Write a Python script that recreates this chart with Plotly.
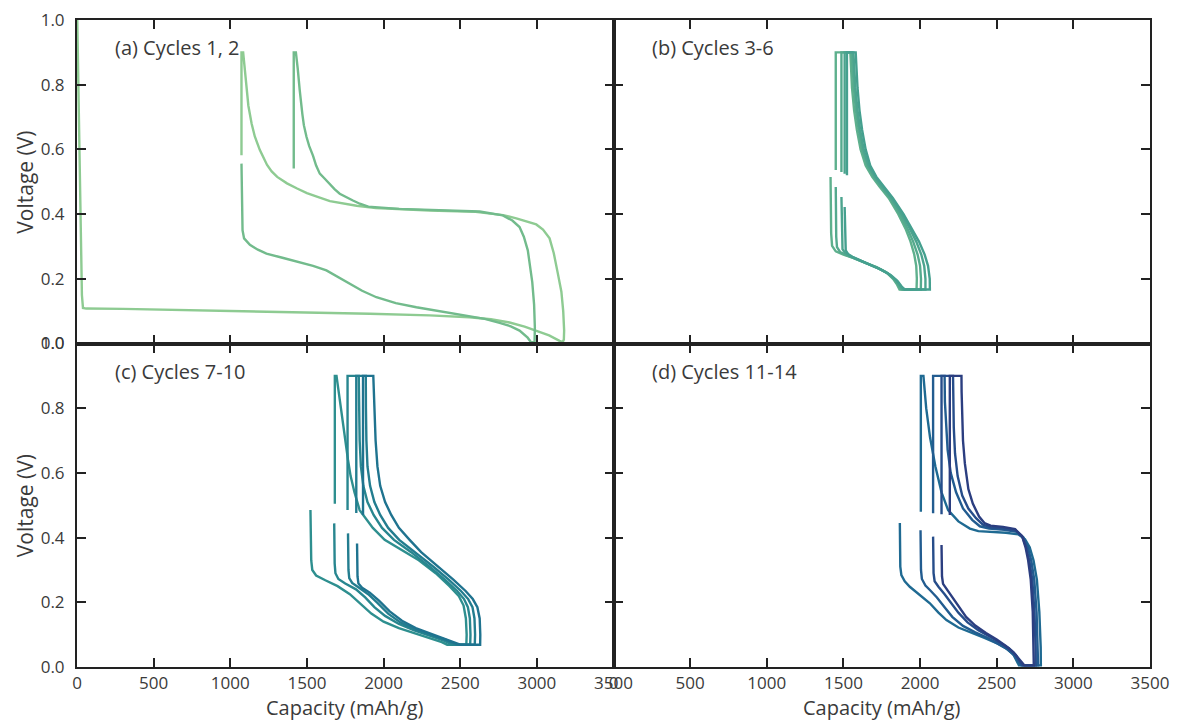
import plotly.graph_objects as go
from plotly.subplots import make_subplots

# ---------------- data (capacity mAh/g, voltage V) per cycle ----------------
cap_c1 = [0, 8, 20, 32, 39, 60, 300, 800, 1300, 1910, 2300, 2560, 2700, 2822, 2920, 2996, 3080, 3148, 3168, 3176,
          3178, 3172, 3160, 3137, 3110, 3083, 3040, 2996, 2930, 2866, 2780, 2600, 2300, 2082, 1950, 1824, 1720, 1650,
          1565, 1500, 1436, 1370, 1306, 1270, 1240, 1215, 1193, 1160, 1139, 1118, 1106, 1094, 1087, 1084, 1073, 1073]
volt_c1 = [1.05, 0.8, 0.4, 0.15, 0.11, 0.108, 0.107, 0.103, 0.099, 0.092, 0.087, 0.081, 0.075, 0.065, 0.052, 0.040,
           0.025, 0.008, 0.004, 0.012, 0.04, 0.10, 0.16, 0.216, 0.28, 0.325, 0.352, 0.368, 0.378, 0.387, 0.397, 0.407,
           0.411, 0.415, 0.419, 0.426, 0.433, 0.440, 0.454, 0.465, 0.479, 0.495, 0.515, 0.532, 0.552, 0.575, 0.598,
           0.64, 0.68, 0.735, 0.79, 0.85, 0.885, 0.9, 0.9, 0.582]

cap_c2 = [1073, 1074, 1076, 1080, 1090, 1128, 1180, 1236, 1340, 1453, 1540, 1627, 1700, 1779, 1860, 1953, 2080, 2214,
          2380, 2540, 2660, 2757, 2830, 2887, 2940, 2962, 2985,
          2987, 2982, 2970, 2955, 2941, 2915, 2887, 2840, 2778, 2627, 2400, 2100, 1900, 1845, 1800, 1758, 1714, 1680,
          1649, 1615, 1584, 1560, 1540, 1515, 1497, 1480, 1470, 1460, 1453, 1440, 1428, 1414, 1414]
volt_c2 = [0.556, 0.47, 0.40, 0.35, 0.325, 0.305, 0.29, 0.278, 0.265, 0.252, 0.24, 0.226, 0.207, 0.185, 0.163, 0.143,
           0.125, 0.112, 0.099, 0.087, 0.076, 0.064, 0.053, 0.040, 0.018, 0.004, 0.004,
           0.05, 0.12, 0.19, 0.245, 0.288, 0.33, 0.36, 0.38, 0.396, 0.408, 0.412, 0.416, 0.423, 0.432, 0.442, 0.453,
           0.463, 0.477, 0.494, 0.51, 0.525, 0.55, 0.58, 0.61, 0.639, 0.675, 0.71, 0.745, 0.783, 0.85, 0.9, 0.9, 0.541]

cap_c3 = [1416, 1418, 1420, 1426, 1450, 1500, 1563, 1640, 1716, 1780, 1824, 1850, 1866, 1977, 1979, 1975, 1962, 1938,
          1905, 1858, 1795, 1735, 1688, 1645, 1612, 1588, 1570, 1556, 1548, 1545, 1450, 1450]
volt_c3 = [0.515, 0.42, 0.34, 0.302, 0.285, 0.275, 0.265, 0.25, 0.236, 0.22, 0.2, 0.182, 0.167, 0.167, 0.20, 0.24,
           0.275, 0.315, 0.355, 0.40, 0.45, 0.485, 0.515, 0.55, 0.60, 0.66, 0.72, 0.79, 0.85, 0.90, 0.90, 0.536]

cap_c4 = [1450, 1451, 1453, 1458, 1478, 1520, 1575, 1650, 1725, 1788, 1833, 1860, 1878, 2005, 2006, 2000, 1984, 1955,
          1918, 1868, 1803, 1745, 1698, 1656, 1623, 1600, 1582, 1568, 1560, 1555, 1487, 1487]
volt_c4 = [0.484, 0.40, 0.33, 0.298, 0.283, 0.273, 0.263, 0.248, 0.233, 0.217, 0.198, 0.18, 0.167, 0.167, 0.20, 0.24,
           0.275, 0.315, 0.355, 0.40, 0.45, 0.485, 0.515, 0.55, 0.60, 0.66, 0.72, 0.79, 0.85, 0.90, 0.90, 0.53]

cap_c5 = [1487, 1488, 1490, 1494, 1510, 1545, 1595, 1665, 1738, 1798, 1842, 1870, 1890, 2035, 2035, 2027, 2008, 1975,
          1933, 1880, 1812, 1752, 1706, 1664, 1632, 1609, 1592, 1578, 1570, 1565, 1508, 1508]
volt_c5 = [0.453, 0.38, 0.32, 0.292, 0.28, 0.27, 0.26, 0.245, 0.23, 0.214, 0.196, 0.178, 0.167, 0.167, 0.20, 0.24,
           0.275, 0.315, 0.355, 0.40, 0.45, 0.485, 0.515, 0.55, 0.60, 0.66, 0.72, 0.79, 0.85, 0.90, 0.90, 0.525]

cap_c6 = [1508, 1509, 1511, 1515, 1530, 1562, 1608, 1675, 1748, 1808, 1852, 1880, 1900, 2064, 2063, 2052, 2030, 1993,
          1948, 1892, 1822, 1762, 1715, 1675, 1645, 1622, 1605, 1592, 1584, 1580, 1523, 1523]
volt_c6 = [0.422, 0.36, 0.31, 0.288, 0.277, 0.267, 0.257, 0.243, 0.228, 0.212, 0.194, 0.176, 0.167, 0.167, 0.20, 0.24,
           0.275, 0.315, 0.355, 0.40, 0.45, 0.485, 0.515, 0.55, 0.60, 0.66, 0.72, 0.79, 0.85, 0.90, 0.90, 0.52]

cap_c7 = [1523, 1525, 1528, 1535, 1560, 1620, 1700, 1780, 1850, 1920, 2000, 2100, 2200, 2300, 2380, 2415,
          2540, 2542, 2537, 2522, 2490, 2430, 2340, 2230, 2110, 2007, 1930, 1870, 1844, 1810, 1785, 1768, 1745, 1720,
          1700, 1693, 1682, 1682]
volt_c7 = [0.485, 0.40, 0.33, 0.30, 0.283, 0.268, 0.25, 0.225, 0.195, 0.165, 0.14, 0.12, 0.105, 0.09, 0.077, 0.069,
           0.069, 0.10, 0.15, 0.19, 0.22, 0.25, 0.29, 0.33, 0.365, 0.393, 0.43, 0.47, 0.485, 0.54, 0.59, 0.64, 0.72,
           0.8, 0.87, 0.9, 0.9, 0.505]

cap_c8 = [1678, 1679, 1681, 1686, 1705, 1750, 1820, 1880, 1940, 2010, 2100, 2200, 2300, 2390, 2450,
          2565, 2567, 2563, 2550, 2525, 2480, 2400, 2300, 2180, 2068, 1990, 1935, 1895, 1868, 1852, 1844, 1840, 1838,
          1765, 1765]
volt_c8 = [0.444, 0.38, 0.32, 0.29, 0.272, 0.258, 0.24, 0.215, 0.185, 0.158, 0.133, 0.113, 0.097, 0.082, 0.069,
           0.069, 0.10, 0.15, 0.185, 0.21, 0.235, 0.27, 0.31, 0.355, 0.393, 0.43, 0.47, 0.51, 0.56, 0.62, 0.7, 0.8,
           0.9, 0.9, 0.485]

cap_c9 = [1768, 1769, 1771, 1776, 1795, 1840, 1900, 1960, 2030, 2110, 2200, 2300, 2400, 2480,
          2595, 2597, 2593, 2580, 2552, 2505, 2425, 2325, 2205, 2102, 2030, 1978, 1940, 1912, 1895, 1888, 1885, 1884,
          1822, 1822]
volt_c9 = [0.413, 0.35, 0.30, 0.275, 0.26, 0.245, 0.225, 0.198, 0.165, 0.138, 0.117, 0.1, 0.085, 0.069,
           0.069, 0.10, 0.15, 0.185, 0.21, 0.235, 0.27, 0.31, 0.355, 0.393, 0.43, 0.47, 0.51, 0.56, 0.62, 0.7, 0.8,
           0.9, 0.9, 0.476]

cap_c10 = [1827, 1828, 1830, 1836, 1860, 1910, 1970, 2040, 2120, 2210, 2310, 2410, 2500,
           2630, 2631, 2627, 2612, 2582, 2535, 2455, 2355, 2245, 2170, 2100, 2050, 2010, 1978, 1960, 1948, 1940, 1933,
           1866, 1866]
volt_c10 = [0.382, 0.32, 0.28, 0.258, 0.245, 0.23, 0.205, 0.172, 0.143, 0.12, 0.102, 0.086, 0.069,
            0.069, 0.10, 0.15, 0.185, 0.21, 0.235, 0.27, 0.31, 0.355, 0.393, 0.43, 0.47, 0.51, 0.56, 0.62, 0.7, 0.8,
            0.9, 0.9, 0.47]

cap_c11 = [1868, 1869, 1871, 1878, 1900, 1933, 2000, 2064, 2120, 2172, 2250, 2344, 2420, 2499, 2560, 2607, 2630, 2645,
           2788, 2787, 2778, 2762, 2740, 2715, 2685, 2640, 2560, 2460, 2380, 2325, 2250, 2183, 2140, 2100, 2065, 2040,
           2022, 2005, 2005]
volt_c11 = [0.445, 0.38, 0.31, 0.284, 0.265, 0.248, 0.222, 0.197, 0.168, 0.145, 0.122, 0.105, 0.09, 0.074, 0.058, 0.04,
            0.02, 0.005, 0.005, 0.06, 0.17, 0.27, 0.33, 0.37, 0.395, 0.41, 0.415, 0.418, 0.42, 0.428, 0.45, 0.485,
            0.54, 0.62, 0.71, 0.8, 0.9, 0.9, 0.48]

cap_c12 = [2003, 2004, 2006, 2012, 2035, 2064, 2110, 2160, 2210, 2280, 2360, 2440, 2510, 2570, 2615, 2645, 2660,
           2770, 2768, 2760, 2745, 2725, 2703, 2675, 2630, 2550, 2450, 2390, 2340, 2280, 2235, 2200, 2180, 2168, 2162,
           2160, 2085, 2085]
volt_c12 = [0.423, 0.36, 0.30, 0.272, 0.252, 0.238, 0.215, 0.185, 0.155, 0.127, 0.107, 0.09, 0.072, 0.055, 0.035,
            0.015, 0.005, 0.005, 0.06, 0.17, 0.27, 0.33, 0.37, 0.40, 0.418, 0.424, 0.428, 0.435, 0.455, 0.49, 0.54,
            0.6, 0.67, 0.75, 0.82, 0.9, 0.9, 0.475]

cap_c13 = [2085, 2086, 2088, 2095, 2120, 2160, 2200, 2250, 2310, 2380, 2450, 2520, 2580, 2625, 2655, 2668,
           2755, 2754, 2746, 2732, 2712, 2692, 2668, 2625, 2550, 2460, 2410, 2365, 2315, 2275, 2245, 2228, 2220, 2216,
           2215, 2140, 2140]
volt_c13 = [0.403, 0.34, 0.29, 0.265, 0.248, 0.225, 0.2, 0.168, 0.138, 0.114, 0.095, 0.076, 0.058, 0.037, 0.015, 0.005,
            0.005, 0.06, 0.17, 0.27, 0.33, 0.37, 0.402, 0.422, 0.428, 0.432, 0.44, 0.46, 0.49, 0.53, 0.59, 0.66, 0.74,
            0.82, 0.9, 0.9, 0.472]

cap_c14 = [2140, 2141, 2143, 2150, 2175, 2210, 2250, 2300, 2360, 2430, 2500, 2560, 2610, 2650, 2672, 2680,
           2742, 2741, 2735, 2722, 2705, 2688, 2665, 2620, 2541, 2460, 2420, 2385, 2344, 2315, 2292, 2280, 2274, 2271,
           2270, 2194, 2194]
volt_c14 = [0.377, 0.32, 0.28, 0.257, 0.24, 0.215, 0.187, 0.155, 0.128, 0.105, 0.085, 0.065, 0.045, 0.022, 0.008,
            0.005, 0.005, 0.06, 0.17, 0.27, 0.33, 0.37, 0.405, 0.426, 0.433, 0.437, 0.445, 0.465, 0.505, 0.55, 0.63,
            0.7, 0.78, 0.85, 0.9, 0.9, 0.47]

cycle_colors = ["#8ecb92", "#72bb8c", "#5eb08d", "#55aa8e", "#4ca48e", "#45a08f", "#2e8f8f",
                "#28868f", "#237d8f", "#1f738f", "#1f6a92", "#225c90", "#264d8a", "#2b3e80"]

panel_titles = ["(a) Cycles 1, 2", "(b) Cycles 3-6", "(c) Cycles 7-10", "(d) Cycles 11-14"]
x_ticks = [0, 500, 1000, 1500, 2000, 2500, 3000, 3500]
y_ticks = [0.0, 0.2, 0.4, 0.6, 0.8, 1.0]
x_label = "Capacity (mAh/g)"
y_label = "Voltage (V)"

panels = [
    (1, 1, [(cap_c1, volt_c1, 0), (cap_c2, volt_c2, 1)]),
    (1, 2, [(cap_c3, volt_c3, 2), (cap_c4, volt_c4, 3), (cap_c5, volt_c5, 4), (cap_c6, volt_c6, 5)]),
    (2, 1, [(cap_c7, volt_c7, 6), (cap_c8, volt_c8, 7), (cap_c9, volt_c9, 8), (cap_c10, volt_c10, 9)]),
    (2, 2, [(cap_c11, volt_c11, 10), (cap_c12, volt_c12, 11), (cap_c13, volt_c13, 12), (cap_c14, volt_c14, 13)]),
]

# ---------------- figure ----------------
FONT = "Open Sans"
TXT = "#3a3a3a"
AX = "#222222"

fig = make_subplots(rows=2, cols=2, horizontal_spacing=0, vertical_spacing=0)

for r, c, curves in panels:
    for cap, volt, ci in curves:
        fig.add_trace(go.Scatter(x=cap, y=volt, mode="lines",
                                 line=dict(color=cycle_colors[ci], width=2.4),
                                 showlegend=False, hoverinfo="skip"), row=r, col=c)

for r in (1, 2):
    for c in (1, 2):
        fig.update_xaxes(range=[0, 3500], tickvals=x_ticks, ticktext=[str(v) for v in x_ticks],
                         showticklabels=(r == 2),
                         ticks="inside", ticklen=9, tickwidth=1.8, tickcolor=AX,
                         showline=True, linewidth=2, linecolor=AX, mirror="ticks",
                         showgrid=False, zeroline=False, ticklabelstandoff=0,
                         ticklabeloverflow="allow",
                         tickfont=dict(family=FONT, size=17, color=TXT),
                         row=r, col=c)
        fig.update_yaxes(range=[0, 1], tickvals=y_ticks, ticktext=["%.1f" % v for v in y_ticks],
                         showticklabels=(c == 1),
                         ticks="inside", ticklen=9, tickwidth=1.8, tickcolor=AX,
                         showline=True, linewidth=2, linecolor=AX, mirror="ticks",
                         showgrid=False, zeroline=False, ticklabelstandoff=7,
                         ticklabeloverflow="allow",
                         tickfont=dict(family=FONT, size=17, color=TXT),
                         row=r, col=c)

# panel titles
title_pos = [(0.034, 0.957), (0.534, 0.957), (0.034, 0.457), (0.534, 0.457)]
for (tx, ty), t in zip(title_pos, panel_titles):
    fig.add_annotation(x=tx, y=ty, xref="paper", yref="paper", text=t, showarrow=False,
                       xanchor="left", yanchor="middle",
                       font=dict(family=FONT, size=20, color=TXT))

# axis titles (placed as annotations for exact positioning)
for xc in (0.25, 0.75):
    fig.add_annotation(x=xc, y=-0.063, xref="paper", yref="paper", text=x_label, showarrow=False,
                       xanchor="center", yanchor="middle",
                       font=dict(family=FONT, size=20, color=TXT))
for yc in (0.75, 0.25):
    fig.add_annotation(x=-0.0485, y=yc, xref="paper", yref="paper", text=y_label, showarrow=False,
                       textangle=-90, xanchor="center", yanchor="middle",
                       font=dict(family=FONT, size=21, color=TXT))

# the page adds an 8 px body margin, so the figure is 8 px smaller and margins are shifted
fig.update_layout(width=1172, height=714, paper_bgcolor="white", plot_bgcolor="white",
                  margin=dict(l=69, r=30, t=12, b=55, autoexpand=False), showlegend=False)

fig.write_html("out.html")
